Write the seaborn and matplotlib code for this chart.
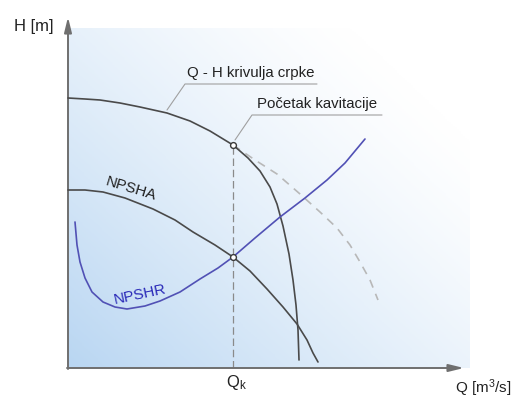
import numpy as np
import matplotlib
matplotlib.use("Agg")
import matplotlib.pyplot as plt
from matplotlib.colors import LinearSegmentedColormap
import seaborn as sns

# ── Data (arbitrary units) ──
qh_q = [0, 17, 32, 52, 72, 99, 122, 142, 165, 180, 192, 202, 209, 215, 221, 225, 228, 230, 231]
qh_h = [270, 269, 268, 265, 261, 255, 247, 237, 223, 210, 197, 181, 164, 142, 114, 88, 63, 38, 8]

qh_ext_q = [165, 187, 209, 232, 252, 269, 282, 292, 302, 310]
qh_ext_h = [223, 208, 194, 174, 156, 140, 123, 106, 88, 68]

npsha_q = [0, 17, 35, 57, 85, 107, 125, 147, 165, 182, 199, 215, 229, 239, 245, 250]
npsha_h = [178, 178, 176, 170, 159, 148, 136, 123, 111, 97, 79, 61, 44, 28, 15, 6]

npshr_q = [7, 9, 12, 17, 24, 35, 47, 59, 77, 92, 112, 132, 150, 165, 187, 212, 237, 259, 277, 297]
npshr_h = [146, 123, 106, 90, 76, 66, 61, 59, 62, 67, 76, 89, 100, 111, 130, 151, 170, 188, 205, 229]

q_k = 165
h_cav = 223    # Q-H at Q_k
h_npsh = 111   # NPSHA = NPSHR at Q_k

# ── Style ──
sns.set_style("white")
plt.rcParams['font.family'] = ['Liberation Sans', 'DejaVu Sans']
plt.rcParams['mathtext.fontset'] = 'custom'
plt.rcParams['mathtext.rm'] = 'Liberation Sans'
plt.rcParams['mathtext.it'] = 'Liberation Sans'

fig = plt.figure(figsize=(5.18, 4.01), dpi=100)
ax = fig.add_axes([0, 0, 1, 1])
ax.set_xlim(-68, 450)
ax.set_ylim(-33, 368)
ax.axis('off')

# ── Background gradient ──
gx, gy = np.meshgrid(np.linspace(0, 1, 200), np.linspace(0, 1, 200))
t = np.clip(1 - (0.62 * gx + 0.55 * gy), 0, 1) ** 1.3
cmap = LinearSegmentedColormap.from_list("bg", ["#ffffff", "#b9d6f2"])
ax.imshow(t, extent=(0, 402, 0, 340), origin='lower', cmap=cmap,
          vmin=0, vmax=1, aspect='auto', zorder=0)

# ── Axes with arrows ──
ax.annotate('', xy=(0, 351), xytext=(0, -1),
            arrowprops=dict(arrowstyle='-|>,head_length=0.9,head_width=0.22',
                            color='#6f6f6f', lw=1.4, shrinkA=0, shrinkB=0))
ax.annotate('', xy=(396, 0), xytext=(-1, 0),
            arrowprops=dict(arrowstyle='-|>,head_length=0.9,head_width=0.22',
                            color='#6f6f6f', lw=1.4, shrinkA=0, shrinkB=0))

# ── Curves ──
sns.lineplot(x=qh_ext_q, y=qh_ext_h, ax=ax, sort=False, estimator=None,
             color='#b8b8b8', lw=1.2, linestyle=(0, (5, 4)), zorder=2)
sns.lineplot(x=qh_q, y=qh_h, ax=ax, sort=False, estimator=None,
             color='#4a4a4a', lw=1.2, zorder=3)
sns.lineplot(x=npsha_q, y=npsha_h, ax=ax, sort=False, estimator=None,
             color='#4a4a4a', lw=1.2, zorder=3)
sns.lineplot(x=npshr_q, y=npshr_h, ax=ax, sort=False, estimator=None,
             color='#5151b5', lw=1.2, zorder=3)

# vertical dashed line at Q_k
ax.plot([q_k, q_k], [0, h_cav], color='#8a8a8a', lw=0.9,
        linestyle=(0, (6, 3)), zorder=1)

# points
ax.plot([q_k, q_k], [h_cav, h_npsh], 'o', ms=4.2, mfc='white',
        mec='#3a3a3a', mew=1.0, zorder=5)

# ── Leader lines ──
ax.plot([99, 117, 249], [258, 284, 284], color='#a0a0a0', lw=0.8, zorder=2)
ax.plot([167, 184, 314], [228, 253, 253], color='#a0a0a0', lw=0.8, zorder=2)

# ── Texts ──
ax.text(119, 295, 'Q - H krivulja crpke', fontsize=10.8, color='#222222',
        ha='left', va='center')
ax.text(189, 264, 'Početak kavitacije', fontsize=10.8, color='#222222',
        ha='left', va='center')
ax.text(63, 179, 'NPSHA', fontsize=11, color='#222222',
        rotation=-17, ha='center', va='center')
ax.text(72, 73, 'NPSHR', fontsize=11, color='#2a2ab8',
        rotation=12, ha='center', va='center')
ax.text(-34, 342, 'H [m]', fontsize=12, color='#222222', ha='center', va='center')
ax.text(444, -20, 'Q [m$^3$/s]', fontsize=11, color='#222222', ha='right', va='center')
ax.text(168, -15, 'Q$_k$', fontsize=12, color='#222222', ha='center', va='center')

plt.savefig('out.png', dpi=100)
